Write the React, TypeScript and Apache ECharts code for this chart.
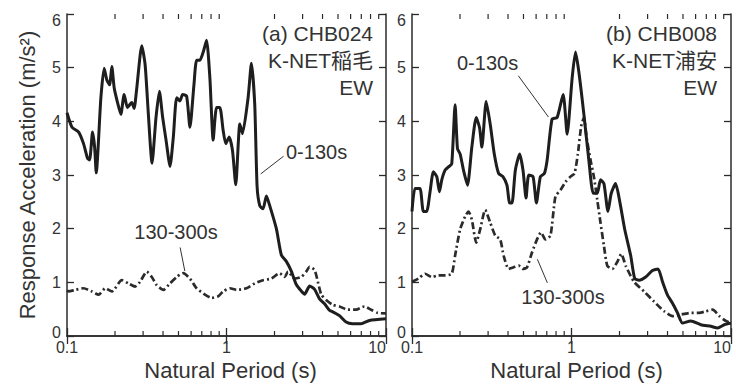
import React, { useEffect, useRef } from "react";
import * as echarts from "echarts";

// Acceleration response spectra (5% damping), period [s] vs. acceleration [m/s^2]
const CHB024_0_130: number[][] = [
  [0.1, 4.16], [0.1075, 3.89], [0.1183, 3.8], [0.1271, 3.58], [0.1346, 3.31], [0.1386, 3.28],
  [0.1446, 3.8], [0.149, 3.52], [0.1525, 3.04], [0.1631, 4.44], [0.171, 4.99], [0.1778, 4.77],
  [0.1848, 4.68], [0.191, 5.02], [0.1977, 4.62], [0.2074, 4.35], [0.2175, 4.13], [0.2282, 4.5],
  [0.2393, 4.26], [0.2549, 4.35], [0.2635, 4.24], [0.2738, 4.62], [0.2943, 5.41], [0.309, 5.05],
  [0.3237, 4.13], [0.3413, 3.22], [0.3614, 4.07], [0.3795, 4.56], [0.398, 4.07], [0.4178, 3.65],
  [0.4425, 3.16], [0.4642, 3.71], [0.487, 4.44], [0.5108, 4.38], [0.531, 4.5], [0.5623, 4.47],
  [0.59, 3.89], [0.625, 4.68], [0.6494, 5.14], [0.681, 5.14], [0.7145, 5.29], [0.75, 5.51],
  [0.787, 4.8], [0.825, 3.65], [0.866, 4.26], [0.908, 4.26], [0.953, 3.83], [0.99, 3.58],
  [1.039, 3.71], [1.09, 3.46], [1.143, 2.82], [1.212, 3.95], [1.259, 3.77], [1.366, 4.44],
  [1.433, 5.08], [1.503, 4.32], [1.555, 2.79], [1.616, 2.43], [1.695, 2.37], [1.778, 2.61],
  [1.866, 2.43], [2.054, 2.0], [2.207, 1.51], [2.371, 1.39], [2.548, 1.21], [2.738, 0.96],
  [2.943, 0.84], [3.09, 0.78], [3.32, 0.93], [3.566, 0.87], [3.83, 0.69], [4.12, 0.6],
  [4.42, 0.48], [4.64, 0.45], [5.11, 0.38], [5.62, 0.26], [6.17, 0.23], [6.98, 0.23],
  [7.87, 0.29], [10, 0.32],
];

const CHB024_130_300: number[][] = [
  [0.1, 0.85], [0.1024, 0.83], [0.1127, 0.86], [0.127, 0.89], [0.1433, 0.83], [0.1577, 0.77],
  [0.1738, 0.89], [0.191, 0.83], [0.2207, 1.04], [0.2428, 0.98], [0.2674, 0.92], [0.2873, 1.01],
  [0.3162, 1.2], [0.34, 1.1], [0.365, 0.95], [0.4019, 0.86], [0.4425, 0.98], [0.487, 1.1],
  [0.5358, 1.17], [0.59, 1.07], [0.6494, 0.89], [0.7326, 0.77], [0.806, 0.71], [0.887, 0.74],
  [0.953, 0.83], [1.05, 0.89], [1.155, 0.86], [1.334, 0.89], [1.503, 0.98], [1.695, 1.04],
  [1.91, 1.07], [2.154, 1.17], [2.317, 1.1], [2.43, 1.2], [2.673, 1.07], [2.943, 1.1],
  [3.162, 1.2], [3.32, 1.29], [3.566, 1.23], [3.74, 1.01], [3.93, 0.77], [4.217, 0.67],
  [4.64, 0.58], [5.11, 0.55], [5.75, 0.49], [6.49, 0.49], [7.32, 0.55], [8.06, 0.49],
  [8.87, 0.43], [10, 0.42],
];

const CHB008_0_130: number[][] = [
  [0.1, 2.32], [0.1044, 2.75], [0.1122, 2.75], [0.1178, 2.32], [0.1236, 2.32], [0.1298, 2.69],
  [0.1362, 3.06], [0.143, 2.97], [0.1486, 2.69], [0.1537, 2.91], [0.1612, 3.09], [0.1693, 3.15],
  [0.1775, 3.21], [0.1863, 4.31], [0.1928, 3.49], [0.2004, 3.39], [0.2103, 3.09], [0.2228, 2.81],
  [0.2372, 3.52], [0.2527, 4.07], [0.2652, 3.88], [0.2742, 3.52], [0.2919, 4.37], [0.3095, 3.94],
  [0.328, 3.39], [0.349, 3.03], [0.3717, 2.97], [0.3938, 2.81], [0.4095, 2.48], [0.4236, 2.48],
  [0.4445, 3.09], [0.4732, 3.39], [0.4966, 3.09], [0.5188, 2.57], [0.5393, 3.0], [0.574, 2.97],
  [0.6025, 2.48], [0.638, 2.97], [0.676, 3.03], [0.703, 3.27], [0.755, 4.04], [0.812, 4.07],
  [0.8864, 4.5], [0.9395, 3.76], [1.009, 4.8], [1.059, 5.29], [1.112, 4.92], [1.196, 4.13],
  [1.285, 3.27], [1.369, 2.66], [1.45, 2.66], [1.52, 2.91], [1.597, 2.84], [1.693, 2.32],
  [1.775, 2.66], [1.89, 2.84], [2.014, 2.48], [2.155, 1.99], [2.35, 1.5], [2.49, 1.07],
  [2.65, 1.04], [2.918, 1.1], [3.216, 1.22], [3.49, 1.25], [3.72, 1.01], [4.0, 0.76],
  [4.3, 0.61], [4.62, 0.43], [4.97, 0.24], [5.6, 0.28], [6.47, 0.21], [7.48, 0.18],
  [8.24, 0.15], [9.08, 0.21], [10, 0.24],
];

const CHB008_130_300: number[][] = [
  [0.1, 1.01], [0.1096, 1.07], [0.1207, 1.16], [0.133, 1.1], [0.1465, 1.13], [0.1612, 1.13],
  [0.1775, 1.16], [0.1863, 1.5], [0.2004, 1.99], [0.2155, 2.23], [0.226, 2.32], [0.2372, 2.17],
  [0.2527, 1.74], [0.2677, 1.99], [0.2877, 2.35], [0.3095, 2.11], [0.3327, 1.87], [0.3575, 1.8],
  [0.375, 1.5], [0.4035, 1.25], [0.4339, 1.28], [0.4665, 1.31], [0.4966, 1.25], [0.526, 1.28],
  [0.566, 1.56], [0.608, 1.8], [0.644, 1.93], [0.686, 1.8], [0.738, 1.87], [0.793, 2.6],
  [0.853, 2.72], [0.917, 2.87], [0.986, 2.97], [1.044, 3.03], [1.096, 3.39], [1.15, 3.91],
  [1.196, 4.07], [1.243, 3.7], [1.318, 3.27], [1.381, 2.97], [1.45, 2.54], [1.52, 2.11],
  [1.597, 1.68], [1.676, 1.31], [1.803, 1.25], [1.937, 1.38], [2.053, 1.53], [2.186, 1.31],
  [2.466, 1.01], [2.85, 0.83], [3.296, 0.64], [3.81, 0.46], [4.3, 0.37], [4.85, 0.4],
  [5.6, 0.43], [6.32, 0.43], [6.96, 0.46], [7.67, 0.49], [8.45, 0.37], [9.3, 0.28],
  [10, 0.24],
];

// Leader lines from each curve label to its curve: [period, acceleration] end points
const LEADER_A_MAIN = [[2.28, 3.35], [1.638, 3.02]];
const LEADER_A_LATE = [[0.512, 1.65], [0.548, 1.21]];
const LEADER_B_MAIN = [[0.464, 4.85], [0.717, 4.08]];
const LEADER_B_LATE = [[0.706, 0.99], [0.611, 1.43]];

const PERIOD_MIN = 0.1;
const PERIOD_MAX = 10;
const ACC_MIN = 0;
const ACC_MAX = 6;
const ACC_STEP = 1;
const MINOR_PERIODS = [0.2, 0.3, 0.4, 0.5, 0.6, 0.7, 0.8, 0.9, 2, 3, 4, 5, 6, 7, 8, 9];

const FONT = "'Liberation Sans', Arial, Helvetica, 'Noto Sans CJK JP', sans-serif";
const INK = "#2b2b2b";
const TEXT = "#333333";

function fmtPeriod(v: number): string {
  return String(Number(v.toPrecision(3)));
}

function periodAxes(gridIndex: number, nameShift: number) {
  const line = { show: true, lineStyle: { color: INK, width: 1.5 } };
  return [
    {
      type: "log",
      logBase: 10,
      gridIndex,
      min: PERIOD_MIN,
      max: PERIOD_MAX,
      position: "bottom",
      axisLine: line,
      axisTick: { show: true, inside: true, length: 8, lineStyle: { color: INK, width: 1.3 } },
      axisLabel: {
        show: true,
        color: TEXT,
        fontFamily: FONT,
        fontSize: 16,
        lineHeight: 14,
        margin: 4,
        alignMaxLabel: "right",
        formatter: (v: number) => fmtPeriod(v),
      },
      splitLine: { show: false },
      minorTick: { show: false },
      name: "Natural Period (s)",
      nameLocation: "middle",
      nameGap: 22,
      nameTextStyle: {
        color: TEXT,
        fontFamily: FONT,
        fontSize: 22,
        padding: [0, 0, 0, nameShift],
      },
    },
    {
      type: "log",
      logBase: 10,
      gridIndex,
      min: PERIOD_MIN,
      max: PERIOD_MAX,
      position: "top",
      axisLine: line,
      axisTick: { show: true, inside: true, length: 8, lineStyle: { color: INK, width: 1.3 } },
      axisLabel: { show: false },
      splitLine: { show: false },
      minorTick: { show: false },
    },
  ];
}

function accAxes(gridIndex: number, withName: boolean) {
  const line = { show: true, lineStyle: { color: INK, width: 1.5 } };
  const tick = { show: true, inside: true, length: 7, lineStyle: { color: INK, width: 1.3 } };
  const base = { color: TEXT, fontFamily: FONT, fontSize: 16, lineHeight: 14 };
  return [
    {
      type: "value",
      gridIndex,
      min: ACC_MIN,
      max: ACC_MAX,
      interval: ACC_STEP,
      position: "left",
      axisLine: line,
      axisTick: tick,
      axisLabel: {
        ...base,
        margin: 6,
        // top and bottom values sit slightly inward so they clear the frame corners
        formatter: (v: number) =>
          v === ACC_MAX ? "{top|" + v + "}" : v === ACC_MIN ? "{bot|" + v + "}" : String(v),
        rich: {
          top: { ...base, padding: [12, 0, 0, 0] },
          bot: { ...base, padding: [0, 0, 8, 0] },
        },
      },
      splitLine: { show: false },
      name: withName ? "Response Acceleration (m/s\u00B2)" : "",
      nameLocation: "middle",
      nameRotate: 90,
      nameGap: 29,
      nameTextStyle: { color: TEXT, fontFamily: FONT, fontSize: 22 },
    },
    {
      type: "value",
      gridIndex,
      min: ACC_MIN,
      max: ACC_MAX,
      interval: ACC_STEP,
      position: "right",
      axisLine: line,
      axisTick: tick,
      axisLabel: { show: false },
      splitLine: { show: false },
    },
  ];
}

// Short inward ticks at 2..9 of every decade, on the bottom and top frame
function minorTicks(xAxisIndex: number, yAxisIndex: number) {
  return {
    type: "custom",
    xAxisIndex,
    yAxisIndex,
    silent: true,
    clip: false,
    z: 5,
    data: MINOR_PERIODS.map((p) => [p, ACC_MIN]),
    renderItem: (_params: any, api: any) => {
      const p = api.value(0);
      const b = api.coord([p, ACC_MIN]);
      const t = api.coord([p, ACC_MAX]);
      const style = { stroke: INK, lineWidth: 1.2 };
      return {
        type: "group",
        children: [
          { type: "line", shape: { x1: b[0], y1: b[1], x2: b[0], y2: b[1] - 5 }, style },
          { type: "line", shape: { x1: t[0], y1: t[1], x2: t[0], y2: t[1] + 5 }, style },
        ],
      };
    },
  };
}

function leader(points: number[][]) {
  return {
    silent: true,
    symbol: ["none", "none"],
    label: { show: false },
    lineStyle: { color: TEXT, width: 1, type: "solid" },
    data: [[{ coord: points[0] }, { coord: points[1] }]],
  };
}

function spectrum(
  name: string,
  data: number[][],
  xAxisIndex: number,
  yAxisIndex: number,
  dashed: boolean,
  lead: number[][]
) {
  return {
    name,
    type: "line",
    xAxisIndex,
    yAxisIndex,
    data,
    showSymbol: false,
    smooth: 0.2,
    clip: true,
    z: dashed ? 3 : 4,
    lineStyle: dashed
      ? { color: INK, width: 2.7, type: [7, 3, 2, 3] }
      : { color: "#1e1e1e", width: 3, type: "solid" },
    markLine: leader(lead),
  };
}

function label(text: string, x: number, y: number, align: string) {
  return {
    type: "text",
    x,
    y,
    style: {
      text,
      fill: TEXT,
      font: `20px ${FONT}`,
      align,
      verticalAlign: "middle",
    },
  };
}

function heading(text: string, x: number, y: number) {
  return {
    type: "text",
    x,
    y,
    style: {
      text,
      fill: TEXT,
      font: `21px ${FONT}`,
      align: "right",
      verticalAlign: "middle",
    },
  };
}

export default function App() {
  const ref = useRef<HTMLDivElement>(null);

  useEffect(() => {
    if (!ref.current) return;
    const chart = echarts.init(ref.current, undefined, { renderer: "svg" });
    const option = {
      animation: false,
      backgroundColor: "#ffffff",
      grid: [
        { left: 67, top: 8, width: 319, height: 328 },
        { left: 412, top: 8, width: 319, height: 328 },
      ],
      xAxis: [...periodAxes(0, 8), ...periodAxes(1, 10)],
      yAxis: [...accAxes(0, true), ...accAxes(1, false)],
      series: [
        spectrum("CHB024 130-300s", CHB024_130_300, 0, 0, true, LEADER_A_LATE),
        spectrum("CHB024 0-130s", CHB024_0_130, 0, 0, false, LEADER_A_MAIN),
        spectrum("CHB008 130-300s", CHB008_130_300, 2, 2, true, LEADER_B_LATE),
        spectrum("CHB008 0-130s", CHB008_0_130, 2, 2, false, LEADER_B_MAIN),
        minorTicks(0, 0),
        minorTicks(2, 2),
      ],
      graphic: [
        heading("(a) CHB024", 373, 33),
        heading("K-NET稲毛", 373, 60),
        heading("EW", 373, 87),
        label("0-130s", 286, 152, "left"),
        label("130-300s", 176, 232, "center"),
        heading("(b) CHB008", 717, 33),
        heading("K-NET浦安", 717, 60),
        heading("EW", 717, 87),
        label("0-130s", 457, 63, "left"),
        label("130-300s", 563, 297, "center"),
      ],
    };
    chart.setOption(option as any);
    return () => chart.dispose();
  }, []);

  return (
    <div
      ref={ref}
      style={{ position: "fixed", left: 0, top: 0, width: 736, height: 389, background: "#fff" }}
    />
  );
}
